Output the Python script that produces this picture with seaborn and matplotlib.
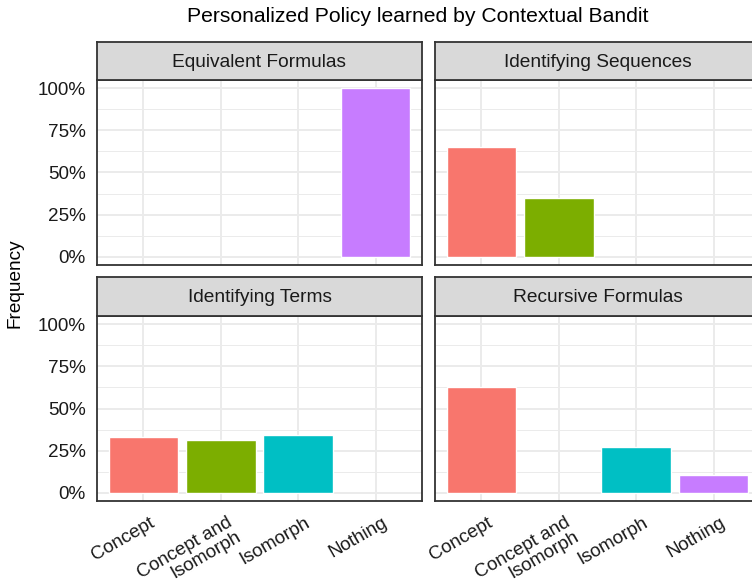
import matplotlib
matplotlib.use("Agg")
import matplotlib.pyplot as plt
from matplotlib.ticker import FixedLocator
import matplotlib.transforms as mtransforms
import seaborn as sns
import pandas as pd

# ---- data ----
categories = ["Concept", "Concept and\nIsomorph", "Isomorph", "Nothing"]
facets = ["Equivalent Formulas", "Identifying Sequences", "Identifying Terms", "Recursive Formulas"]
equivalent_formulas = [0.0, 0.0, 0.0, 1.00]
identifying_sequences = [0.65, 0.35, 0.0, 0.0]
identifying_terms = [0.333, 0.315, 0.345, 0.0]
recursive_formulas = [0.625, 0.0, 0.27, 0.105]
y_ticks = [0, 0.25, 0.5, 0.75, 1.0]
y_tick_labels = ["0%", "25%", "50%", "75%", "100%"]
title = "Personalized Policy learned by Contextual Bandit"
y_label = "Frequency"

values = [equivalent_formulas, identifying_sequences, identifying_terms, recursive_formulas]
rows = []
for f, vals in zip(facets, values):
    for c, v in zip(categories, vals):
        rows.append({"facet": f, "strategy": c, "freq": v})
df = pd.DataFrame(rows)

palette = dict(zip(categories, ["#F8766D", "#7CAE00", "#00BFC4", "#C77CFF"]))

sns.set_theme(style="white")
plt.rcParams["font.family"] = ["Liberation Sans", "DejaVu Sans"]

W, H = 752, 586
fig = plt.figure(figsize=(W / 100, H / 100), dpi=100)

def box(x0, y0, x1, y1):
    return [x0 / W, 1 - y1 / H, (x1 - x0) / W, (y1 - y0) / H]

FS = 13.6
dark = "#333333"
textc = "#1A1A1A"
panel_x = [(97, 422), (435, 760)]
panel_y = [(80, 265), (316, 501)]
strip_y = [(42, 80), (277, 316)]

for i, f in enumerate(facets):
    r, c = divmod(i, 2)
    x0, x1 = panel_x[c]
    y0, y1 = panel_y[r]
    ax = fig.add_axes(box(x0, y0, x1, y1))
    sub = df[(df.facet == f) & (df.freq > 0)]
    sns.barplot(data=sub, x="strategy", y="freq", hue="strategy", order=categories,
                hue_order=categories, palette=palette, width=0.9, saturation=1,
                legend=False, ax=ax, errorbar=None)
    ax.set_xlim(-0.6, 3.6)
    ax.set_ylim(-0.05, 1.05)
    ax.yaxis.set_major_locator(FixedLocator(y_ticks))
    ax.yaxis.set_minor_locator(FixedLocator([0.125, 0.375, 0.625, 0.875]))
    ax.set_axisbelow(True)
    ax.grid(True, which="major", color="#EBEBEB", linewidth=1.4)
    ax.grid(True, which="minor", axis="y", color="#EBEBEB", linewidth=0.7)
    for s in ax.spines.values():
        s.set_color(dark)
        s.set_linewidth(1.3)
    ax.tick_params(axis="both", which="major", length=4.5, width=1.1, color=dark,
                   labelsize=FS, labelcolor=textc, pad=3.5)
    ax.tick_params(axis="both", which="minor", length=0)
    ax.set_xlabel("")
    ax.set_ylabel("")
    ax.set_xticks(range(len(categories)))
    if r == 1:
        labels = ax.set_xticklabels(categories, rotation=30, ha="right", va="top",
                                    rotation_mode="anchor", multialignment="right",
                                    linespacing=0.95)
        off = mtransforms.ScaledTranslation(6 / 100, -2 / 100, fig.dpi_scale_trans)
        for lab in labels:
            lab.set_transform(lab.get_transform() + off)
    else:
        ax.set_xticklabels([])
    if c == 0:
        ax.set_yticklabels(y_tick_labels)
    else:
        ax.set_yticklabels([])
    # strip
    sy0, sy1 = strip_y[r]
    sax = fig.add_axes(box(x0, sy0, x1, sy1))
    sax.set_xticks([]); sax.set_yticks([])
    sax.set_facecolor("#D9D9D9")
    for s in sax.spines.values():
        s.set_color(dark)
        s.set_linewidth(1.3)
    sax.text(0.5, 0.47, f, ha="center", va="center", fontsize=13.8, color=textc,
             transform=sax.transAxes)

fig.text(418 / W, 1 - 16 / H, title, ha="center", va="center", fontsize=15.2, color="black")
fig.text(15 / W, 1 - 283 / H, y_label, ha="center", va="center", rotation=90,
         fontsize=13.7, color="black")

fig.savefig("out.png", dpi=100, facecolor="white")
